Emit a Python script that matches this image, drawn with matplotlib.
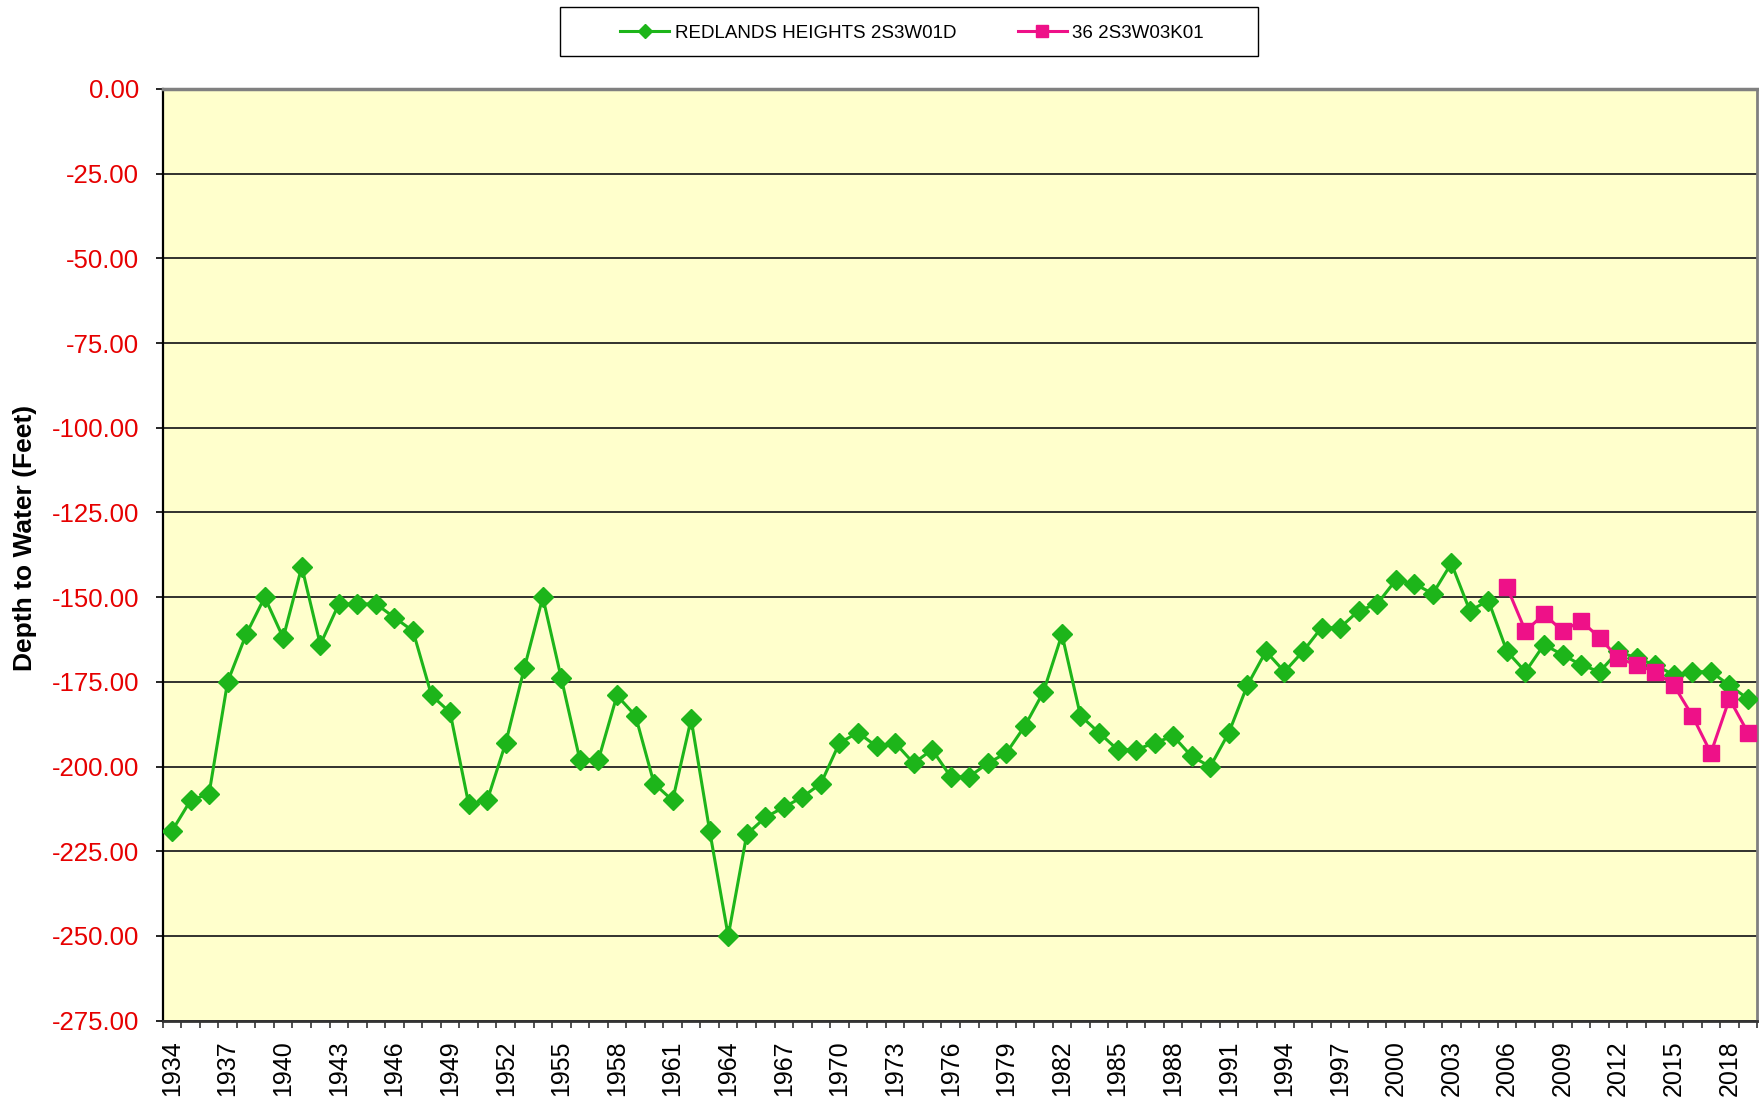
import numpy as np
import matplotlib
matplotlib.use('Agg')
import matplotlib.pyplot as plt
from matplotlib.patches import Rectangle

plt.rcParams['font.family'] = ['Liberation Sans', 'DejaVu Sans']

years = list(range(1934, 2020))
redlands = [-219, -210, -208, -175, -161, -150, -162, -141, -164, -152,
            -152, -152, -156, -160, -179, -184, -211, -210, -193, -171,
            -150, -174, -198, -198, -179, -185, -205, -210, -186, -219,
            -250, -220, -215, -212, -209, -205, -193, -190, -194, -193,
            -199, -195, -203, -203, -199, -196, -188, -178, -161, -185,
            -190, -195, -195, -193, -191, -197, -200, -190, -176, -166,
            -172, -166, -159, -159, -154, -152, -145, -146, -149, -140,
            -154, -151, -166, -172, -164, -167, -170, -172, -166, -168,
            -170, -173, -172, -172, -176, -180]
well36_years = list(range(2006, 2020))
well36 = [-147, -160, -155, -160, -157, -162, -168, -170, -172, -176,
          -185, -196, -180, -190]

green = '#1DB51A'
pink = '#EE1188'
red = '#E60000'

fig = plt.figure(figsize=(17.59, 10.98), dpi=100)
ax = fig.add_axes([0.0925, 0.0704, 0.9065, 0.8486])
ax.set_facecolor('#FFFFCC')

x1 = np.arange(len(years))
x2 = np.array([years.index(y) for y in well36_years])

l1, = ax.plot(x1, redlands, color=green, lw=2.2, marker='D', ms=10,
              mec=green, mfc=green, label='REDLANDS HEIGHTS 2S3W01D', zorder=3)
l2, = ax.plot(x2, well36, color=pink, lw=2.2, marker='s', ms=12,
              mec=pink, mfc=pink, label='36 2S3W03K01', zorder=4)

ax.set_xlim(-0.5, len(years) - 0.5)
ax.set_ylim(-275, 0)

# y axis: red labels, two decimals
yt = np.arange(-275, 1, 25)
ax.set_yticks(yt)
ax.set_yticklabels(['%.2f' % v for v in yt])
ax.tick_params(axis='y', colors='black', labelcolor=red, labelsize=18.5,
               length=5, width=1.2, pad=12, direction='out')
ax.yaxis.grid(True, color='#222222', lw=1.3)
ax.set_axisbelow(True)

# x axis: labels every 3 years, tick marks between categories
ax.set_xticks(x1[::3])
ax.set_xticklabels([str(y) for y in years[::3]], rotation=90, va='top', ha='center')
ax.set_xticks(np.arange(-0.5, len(years)), minor=True)
ax.tick_params(axis='x', which='major', length=0, labelsize=18, pad=14)
ax.tick_params(axis='x', which='minor', length=5, width=1.2, color='#333333')

ax.set_ylabel('Depth to Water (Feet)', fontsize=19, fontweight='bold')
ax.yaxis.set_label_coords(-0.079, 0.518)

ax.spines['left'].set_color('black')
ax.spines['left'].set_linewidth(1.6)
ax.spines['bottom'].set_color('#333333')
ax.spines['bottom'].set_linewidth(2)
ax.spines['top'].set_color('#808080')
ax.spines['top'].set_linewidth(2.5)
ax.spines['right'].set_color('#808080')
ax.spines['right'].set_linewidth(2)

# legend box with wide side margins
fig.patches.append(Rectangle((0.3184, 0.949), 0.3968, 0.0449, transform=fig.transFigure,
                             facecolor='white', edgecolor='black', lw=1.0, zorder=1))
leg = fig.legend(handles=[l1, l2], loc='center', bbox_to_anchor=(0.5185, 0.9695),
                 ncol=2, fontsize=13.5, frameon=False, handlelength=2.6,
                 columnspacing=3.3, handletextpad=0.3, markerscale=0.7)
leg.set_zorder(2)

fig.savefig('out.png', dpi=100)
